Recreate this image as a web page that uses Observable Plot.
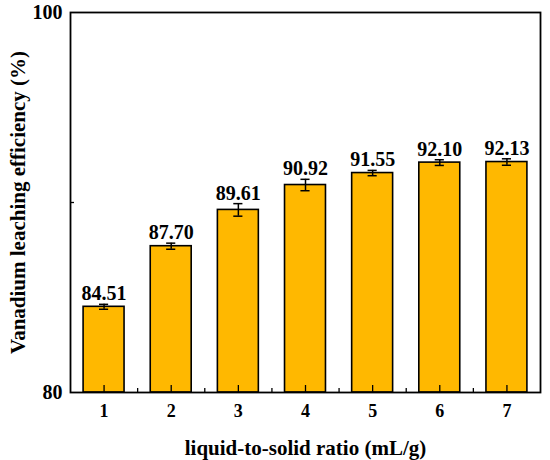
<!DOCTYPE html>
<html>
<head>
<meta charset="utf-8">
<script src="https://cdn.jsdelivr.net/npm/d3@7"></script>
<script src="https://cdn.jsdelivr.net/npm/@observablehq/plot@0.6"></script>
<style>
  html, body { margin: 0; padding: 0; background: #fff; }
  #chart svg { display: block; }
</style>
</head>
<body>
<div id="chart"></div>
<script>
const ratios = [1, 2, 3, 4, 5, 6, 7];
const efficiency = [84.51, 87.70, 89.61, 90.92, 91.55, 92.10, 92.13];
const errors = [0.13, 0.16, 0.33, 0.30, 0.14, 0.15, 0.17];
const yTicks = [80, 100];
const yMinorTicks = [90];
const xMinorTicks = [1.5, 2.5, 3.5, 4.5, 5.5, 6.5];

const data = ratios.map((r, i) => ({r, v: efficiency[i], e: errors[i], label: efficiency[i].toFixed(2)}));

const font = "'Liberation Serif', 'Times New Roman', serif";
const halfBar = 0.305;
const halfCap = 0.068;

const chart = Plot.plot({
  width: 550,
  height: 460,
  marginLeft: 70,
  marginRight: 10,
  marginTop: 12,
  marginBottom: 68,
  style: {fontFamily: font, fontWeight: "bold", background: "#fff", color: "#000"},
  x: {domain: [0.5, 7.5], label: null},
  y: {domain: [80, 100], label: null},
  marks: [
    Plot.rectY(data, {x1: d => d.r - halfBar, x2: d => d.r + halfBar, y1: 80, y2: "v", fill: "#FFB800", stroke: "#000", strokeWidth: 1.6}),
    Plot.ruleX(data, {x: "r", y1: d => d.v - d.e, y2: d => d.v + d.e, stroke: "#000", strokeWidth: 1.5}),
    Plot.ruleY(data, {y: d => d.v - d.e, x1: d => d.r - halfCap, x2: d => d.r + halfCap, stroke: "#000", strokeWidth: 1.5}),
    Plot.ruleY(data, {y: d => d.v + d.e, x1: d => d.r - halfCap, x2: d => d.r + halfCap, stroke: "#000", strokeWidth: 1.5}),
    Plot.text(data, {x: "r", y: d => d.v + d.e, text: "label", dy: -4, lineAnchor: "bottom", fontSize: 20, fontWeight: "bold", fill: "#000"}),
    Plot.tickX(ratios, {x: d => d, insetTop: 373, stroke: "#000", strokeWidth: 1.3}),
    Plot.tickX(xMinorTicks, {x: d => d, insetTop: 376, stroke: "#000", strokeWidth: 1.3}),
    Plot.tickY(yMinorTicks, {y: d => d, insetRight: 466, stroke: "#000", strokeWidth: 1.3}),
    Plot.axisX(ratios, {tickSize: 0, tickPadding: 12, fontSize: 18, fontWeight: "bold", label: "liquid-to-solid ratio (mL/g)", labelAnchor: "center", labelOffset: 62, labelArrow: "none"}),
    Plot.axisY(yTicks, {tickSize: 0, tickPadding: 8, fontSize: 20, fontWeight: "bold", label: "Vanadium leaching efficiency (%)", labelAnchor: "center", labelOffset: 60, labelArrow: "none"}),
    Plot.frame({stroke: "#000", strokeWidth: 1.8})
  ]
});

// enlarge axis titles
chart.querySelectorAll("[aria-label$='axis label'] text, [aria-label$='axis label']").forEach(el => {
  el.setAttribute("font-size", 21);
});
document.getElementById("chart").appendChild(chart);
</script>
</body>
</html>
